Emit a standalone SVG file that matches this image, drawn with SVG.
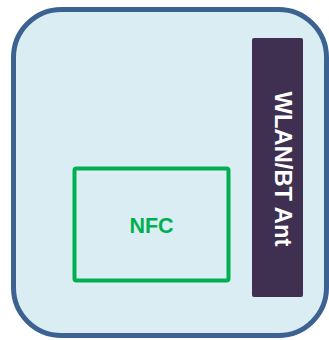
<svg xmlns="http://www.w3.org/2000/svg" width="329" height="340" viewBox="0 0 329 340">
<style>
.lbl{font-family:"Liberation Sans",Arial,sans-serif;font-weight:bold}
</style>
<rect x="0" y="0" width="329" height="340" fill="#ffffff"/>
<g id="board">
<rect x="13.5" y="9.5" width="313" height="326" rx="48" ry="48" fill="#daedf3" stroke="#3b6290" stroke-width="5"/>
</g>
<g id="wlan-bt-ant">
<rect x="252" y="38" width="51" height="259" rx="2" ry="2" fill="#3f3051"/>
<text class="lbl" transform="translate(275,169) rotate(90)" x="0" y="0" text-anchor="middle" font-size="24" fill="#ffffff" textLength="155" lengthAdjust="spacingAndGlyphs">WLAN/BT Ant</text>
</g>
<g id="nfc">
<rect x="74.5" y="168.5" width="154" height="112" rx="2" ry="2" fill="none" stroke="#00b050" stroke-width="4"/>
<text class="lbl" x="151.5" y="233" text-anchor="middle" font-size="21.5" fill="#00b050">NFC</text>
</g>
<g id="connectors"></g>
</svg>
